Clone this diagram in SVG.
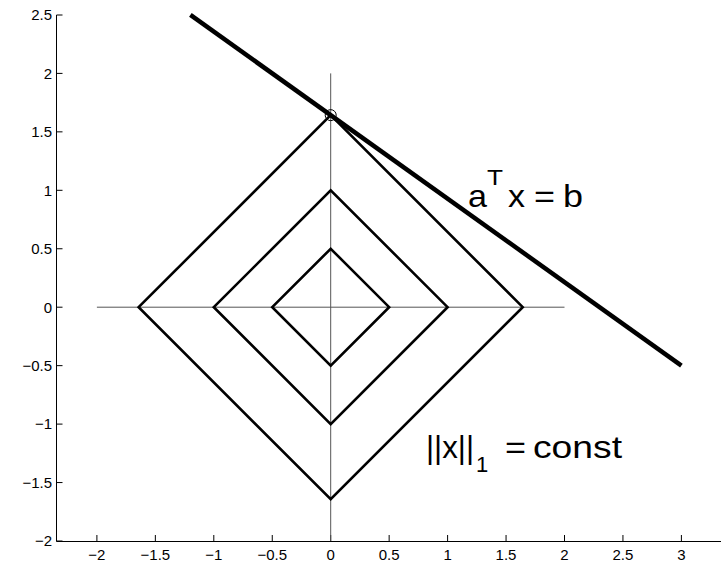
<svg xmlns="http://www.w3.org/2000/svg" width="726" height="563" viewBox="0 0 726 563">
<style>
.ax{stroke:#000;stroke-width:1;fill:none}
.cross{stroke:#555;stroke-width:1;fill:none}
.dia{stroke:#000;stroke-width:2.6;fill:none;stroke-linejoin:miter}
.tl{font-family:"Liberation Sans",Arial,sans-serif;font-size:15px;fill:#000}
.big{font-family:"Liberation Sans",Arial,sans-serif;font-size:32px;fill:#000}
.sm{font-family:"Liberation Sans",Arial,sans-serif;font-size:22px;fill:#000}
</style>
<rect width="726" height="563" fill="#fff"/>
<g id="axes">
<path class="ax" d="M56.5 15V541.5H721"/>
<path class="ax" d="M56.5 15h6M56.5 73.4h6M56.5 131.85h6M56.5 190.3h6M56.5 248.75h6M56.5 307.2h6M56.5 365.65h6M56.5 424.1h6M56.5 482.55h6M56.5 541h6"/>
<path class="ax" d="M96.9 541v-6M155.35 541v-6M213.8 541v-6M272.25 541v-6M330.7 541v-6M389.15 541v-6M447.6 541v-6M506.05 541v-6M564.5 541v-6M622.95 541v-6M681.4 541v-6"/>
<g class="tl" text-anchor="end">
<text x="52" y="20.3">2.5</text>
<text x="52" y="78.7">2</text>
<text x="52" y="137.2">1.5</text>
<text x="52" y="195.6">1</text>
<text x="52" y="254.1">0.5</text>
<text x="52" y="312.5">0</text>
<text x="52" y="371">−0.5</text>
<text x="52" y="429.4">−1</text>
<text x="52" y="487.9">−1.5</text>
<text x="52" y="546.3">−2</text>
</g>
<g class="tl" text-anchor="middle">
<text x="96.9" y="560">−2</text>
<text x="155.35" y="560">−1.5</text>
<text x="213.8" y="560">−1</text>
<text x="272.25" y="560">−0.5</text>
<text x="330.7" y="560">0</text>
<text x="389.15" y="560">0.5</text>
<text x="447.6" y="560">1</text>
<text x="506.05" y="560">1.5</text>
<text x="564.5" y="560">2</text>
<text x="622.95" y="560">2.5</text>
<text x="681.4" y="560">3</text>
</g>
</g>
<g id="connectors">
<path class="cross" d="M96.9 307.2H564.5M330.7 73.4V541"/>
<path d="M190.4 14.95L681.4 365.65" stroke="#000" stroke-width="4.5" stroke-linecap="butt"/>
</g>
<g id="diamond-small"><path class="dia" d="M272.25 307.2L330.7 248.75L389.15 307.2L330.7 365.65Z"/></g>
<g id="diamond-mid"><path class="dia" d="M213.8 307.2L330.7 190.3L447.6 307.2L330.7 424.1Z"/></g>
<g id="diamond-large"><path class="dia" d="M138.65 307.2L330.7 115.15L522.75 307.2L330.7 499.25Z"/></g>
<g id="tangent-point"><circle cx="330.7" cy="115.15" r="5.5" fill="none" stroke="#000" stroke-width="1"/></g>
<g id="label-line">
<text class="big" x="468" y="207" textLength="19" lengthAdjust="spacingAndGlyphs">a</text>
<text class="sm" x="487" y="185" textLength="16" lengthAdjust="spacingAndGlyphs">T</text>
<text class="big" x="508" y="207" textLength="17" lengthAdjust="spacingAndGlyphs">x</text>
<text class="big" x="534" y="207" textLength="21" lengthAdjust="spacingAndGlyphs">=</text>
<text class="big" x="563" y="207" textLength="20" lengthAdjust="spacingAndGlyphs">b</text>
</g>
<g id="label-norm">
<text class="big" x="426" y="458" textLength="48" lengthAdjust="spacingAndGlyphs">||x||</text>
<text class="sm" x="476" y="472">1</text>
<text class="big" x="505" y="458" textLength="21" lengthAdjust="spacingAndGlyphs">=</text>
<text class="big" x="533" y="458" textLength="89" lengthAdjust="spacingAndGlyphs">const</text>
</g>
</svg>
